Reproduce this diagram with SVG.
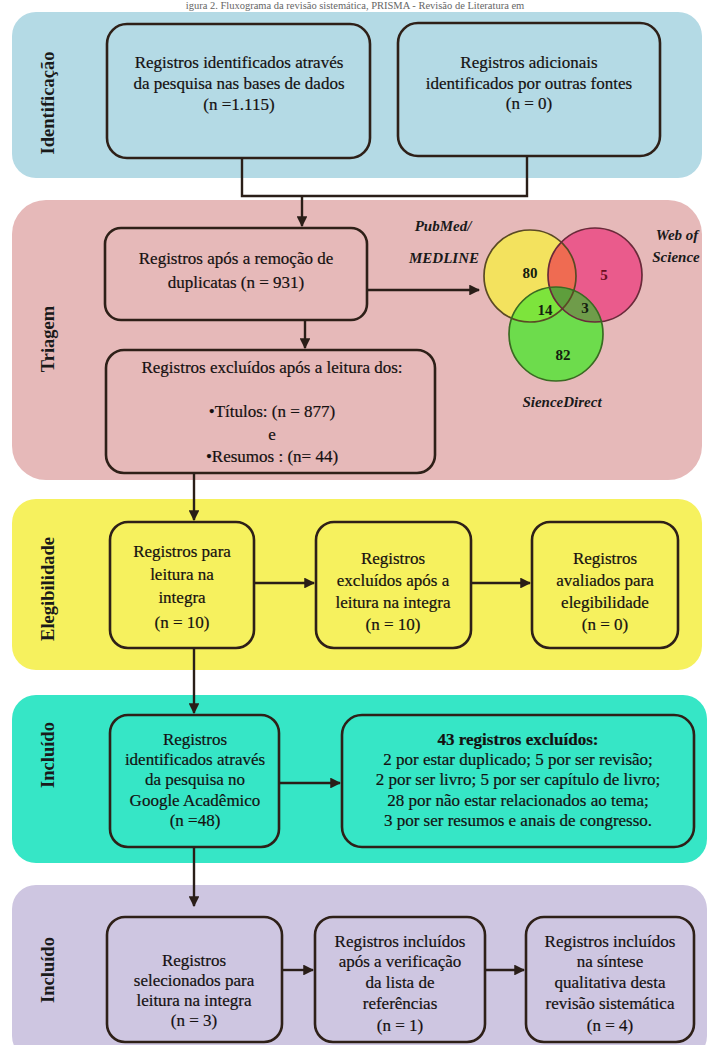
<svg xmlns="http://www.w3.org/2000/svg" width="707" height="1045" viewBox="0 0 707 1045">
<defs>
<style>
.t{font-family:"Liberation Serif","Times New Roman",serif;font-size:17px;fill:#141010;text-anchor:middle;stroke:#141010;stroke-width:0.2}
.lbl{font-family:"Liberation Serif","Times New Roman",serif;font-size:18.5px;font-weight:bold;fill:#1a1a1a;text-anchor:middle}
.box{stroke:#2e2018;stroke-width:2.6;fill:none}
.c{stroke:#2a1e18;stroke-width:2.4;fill:none}
.vl{font-family:"Liberation Serif","Times New Roman",serif;font-size:15px;font-weight:bold;font-style:italic;fill:#1a1a1a}
.vn{font-family:"Liberation Serif","Times New Roman",serif;font-size:15px;font-weight:bold;fill:#142010;text-anchor:middle}
</style>
<marker id="ah" viewBox="0 0 10 10" refX="9" refY="5" markerWidth="4.5" markerHeight="4.5" orient="auto" markerUnits="strokeWidth">
<path d="M0,0 L10,5 L0,10 z" fill="#2a1e18"/>
</marker>
<clipPath id="cy"><circle cx="530" cy="276" r="46"/></clipPath>
<clipPath id="cg"><circle cx="556" cy="334" r="47"/></clipPath>
</defs>
<rect width="707" height="1045" fill="#ffffff"/>
<text x="355" y="9" style="font-family:'Liberation Serif',serif;font-size:10.5px;fill:#666;text-anchor:middle">igura 2. Fluxograma da revisão sistemática, PRISMA - Revisão de Literatura em</text>

<!-- bands -->
<g id="band-identificacao">
<rect x="12" y="12" width="690" height="166" rx="24" fill="#b4dae5"/>
<text class="lbl" transform="translate(54,103) rotate(-90)">Identificação</text>
</g>
<g id="band-triagem">
<rect x="12" y="200" width="690" height="280" rx="34" fill="#e6b9b9"/>
<text class="lbl" transform="translate(54,339) rotate(-90)">Triagem</text>
</g>
<g id="band-elegibilidade">
<rect x="12" y="499" width="690" height="171" rx="24" fill="#f6f15e"/>
<text class="lbl" transform="translate(54,589) rotate(-90)">Elegibilidade</text>
</g>
<g id="band-incluido1">
<rect x="12" y="695" width="695" height="168" rx="24" fill="#36e6c6"/>
<text class="lbl" transform="translate(54,755) rotate(-90)">Incluído</text>
</g>
<g id="band-incluido2">
<rect x="12" y="885" width="695" height="175" rx="24" fill="#cec6e1"/>
<text class="lbl" transform="translate(54,970) rotate(-90)">Incluído</text>
</g>

<!-- nodes -->
<g id="n-bases">
<rect class="box" x="107" y="24" width="263" height="134" rx="20"/>
<text class="t" x="239" y="68">Registros identificados através</text>
<text class="t" x="239" y="89">da pesquisa nas bases de dados</text>
<text class="t" x="239" y="110">(n =1.115)</text>
</g>
<g id="n-outras">
<rect class="box" x="398" y="23" width="262" height="133" rx="20"/>
<text class="t" x="529" y="68">Registros adicionais</text>
<text class="t" x="529" y="89">identificados por outras fontes</text>
<text class="t" x="529" y="109">(n = 0)</text>
</g>
<g id="n-duplicatas">
<rect class="box" x="105" y="228" width="262" height="92" rx="16"/>
<text class="t" x="236" y="264">Registros após a remoção de</text>
<text class="t" x="236" y="288">duplicatas (n = 931)</text>
</g>
<g id="n-excluidos-leitura">
<rect class="box" x="106" y="350" width="329" height="123" rx="18"/>
<text class="t" x="272" y="373">Registros excluídos após a leitura dos:</text>
<text class="t" x="272" y="417">•Títulos: (n = 877)</text>
<text class="t" x="272" y="440">e</text>
<text class="t" x="272" y="462">•Resumos : (n= 44)</text>
</g>
<g id="n-venn">
<circle cx="530" cy="276" r="46" fill="#f3e25e"/>
<circle cx="595" cy="275" r="47" fill="#ea5b8c"/>
<circle cx="595" cy="275" r="47" fill="#ef6b52" clip-path="url(#cy)"/>
<circle cx="556" cy="334" r="47" fill="#6ddc4c"/>
<circle cx="530" cy="276" r="46" fill="#7de43c" clip-path="url(#cg)"/>
<circle cx="595" cy="275" r="47" fill="#6f9c4a" clip-path="url(#cg)"/>
<g clip-path="url(#cg)"><circle cx="595" cy="275" r="47" fill="#5e9e3c" clip-path="url(#cy)"/></g>
<circle cx="530" cy="276" r="46" fill="none" stroke="#5a4a24" stroke-width="1.7"/>
<circle cx="595" cy="275" r="47" fill="none" stroke="#6a2a3a" stroke-width="1.7"/>
<circle cx="556" cy="334" r="47" fill="none" stroke="#3a6a22" stroke-width="1.7"/>
<text class="vl" x="443" y="231" text-anchor="middle">PubMed/</text>
<text class="vl" x="444" y="263" text-anchor="middle">MEDLINE</text>
<text class="vl" x="677" y="240" text-anchor="middle">Web of</text>
<text class="vl" x="676" y="262" text-anchor="middle">Science</text>
<text class="vn" x="530" y="278">80</text>
<text class="vn" x="604" y="280" style="fill:#6a0e20">5</text>
<text class="vn" x="545" y="315">14</text>
<text class="vn" x="585" y="313">3</text>
<text class="vn" x="563" y="360">82</text>
<text class="vl" x="562" y="407" text-anchor="middle">SienceDirect</text>
</g>
<g id="n-leitura-integra">
<rect class="box" x="110" y="522" width="144" height="126" rx="18"/>
<text class="t" x="182" y="557">Registros para</text>
<text class="t" x="182" y="580">leitura na</text>
<text class="t" x="182" y="603">integra</text>
<text class="t" x="182" y="628">(n = 10)</text>
</g>
<g id="n-excluidos-integra">
<rect class="box" x="316" y="522" width="155" height="126" rx="18"/>
<text class="t" x="393" y="564">Registros</text>
<text class="t" x="393" y="586">excluídos após a</text>
<text class="t" x="393" y="608">leitura na integra</text>
<text class="t" x="393" y="630">(n = 10)</text>
</g>
<g id="n-avaliados">
<rect class="box" x="532" y="522" width="146" height="126" rx="18"/>
<text class="t" x="605" y="564">Registros</text>
<text class="t" x="605" y="586">avaliados para</text>
<text class="t" x="605" y="608">elegibilidade</text>
<text class="t" x="605" y="630">(n = 0)</text>
</g>
<g id="n-google">
<rect class="box" x="110" y="715" width="169" height="132" rx="18"/>
<text class="t" x="195" y="745">Registros</text>
<text class="t" x="195" y="765">identificados através</text>
<text class="t" x="195" y="785">da pesquisa no</text>
<text class="t" x="195" y="806">Google Acadêmico</text>
<text class="t" x="195" y="826">(n =48)</text>
</g>
<g id="n-43-excluidos">
<rect class="box" x="342" y="715" width="352" height="132" rx="20"/>
<text class="t" x="518" y="745" font-weight="bold">43 registros excluídos:</text>
<text class="t" x="518" y="765">2 por estar duplicado; 5 por ser revisão;</text>
<text class="t" x="518" y="785">2 por ser livro; 5 por ser capítulo de livro;</text>
<text class="t" x="518" y="806">28 por não estar relacionados ao tema;</text>
<text class="t" x="518" y="826">3 por ser resumos e anais de congresso.</text>
</g>
<g id="n-selecionados">
<rect class="box" x="107" y="917" width="175" height="125" rx="18"/>
<text class="t" x="194" y="966">Registros</text>
<text class="t" x="194" y="986">selecionados para</text>
<text class="t" x="194" y="1006">leitura na integra</text>
<text class="t" x="194" y="1026">(n = 3)</text>
</g>
<g id="n-verificacao">
<rect class="box" x="315" y="917" width="170" height="125" rx="18"/>
<text class="t" x="400" y="947">Registros incluídos</text>
<text class="t" x="400" y="967">após a verificação</text>
<text class="t" x="400" y="988">da lista de</text>
<text class="t" x="400" y="1009">referências</text>
<text class="t" x="400" y="1031">(n = 1)</text>
</g>
<g id="n-sintese">
<rect class="box" x="526" y="917" width="168" height="125" rx="18"/>
<text class="t" x="610" y="947">Registros incluídos</text>
<text class="t" x="610" y="967">na síntese</text>
<text class="t" x="610" y="988">qualitativa desta</text>
<text class="t" x="610" y="1009">revisão sistemática</text>
<text class="t" x="610" y="1031">(n = 4)</text>
</g>

<!-- connectors -->
<g id="connectors">
<path class="c" d="M242,158 V196 H527 V156"/>
<path class="c" d="M302,196 V226" marker-end="url(#ah)"/>
<path class="c" d="M305,320 V348" marker-end="url(#ah)"/>
<path class="c" d="M367,290 H479" marker-end="url(#ah)"/>
<path class="c" d="M194,473 V520" marker-end="url(#ah)"/>
<path class="c" d="M254,583 H314" marker-end="url(#ah)"/>
<path class="c" d="M471,583 H530" marker-end="url(#ah)"/>
<path class="c" d="M194,648 V713" marker-end="url(#ah)"/>
<path class="c" d="M279,783 H340" marker-end="url(#ah)"/>
<path class="c" d="M194,847 V906" marker-end="url(#ah)"/>
<path class="c" d="M282,970 H313" marker-end="url(#ah)"/>
<path class="c" d="M485,970 H524" marker-end="url(#ah)"/>
</g>
</svg>
